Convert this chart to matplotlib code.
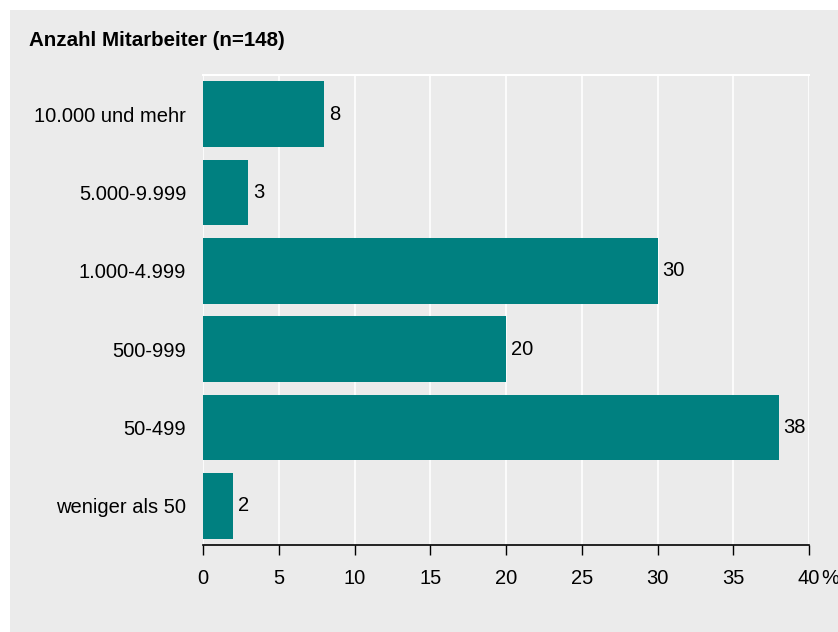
import matplotlib.pyplot as plt
from matplotlib.patches import Rectangle

plt.rcParams['font.family'] = ['Liberation Sans', 'DejaVu Sans']

kategorien = ['weniger als 50', '50-499', '500-999', '1.000-4.999', '5.000-9.999', '10.000 und mehr']
anteile = [2, 38, 20, 30, 3, 8]
xticks = [0, 5, 10, 15, 20, 25, 30, 35, 40]
xticklabels = ['0', '5', '10', '15', '20', '25', '30', '35', '40']

bg = '#ebebeb'
teal = '#008080'
fs = 14.5

fig = plt.figure(figsize=(8.38, 6.32), dpi=100)
fig.patches.append(Rectangle((10 / 838, 0), 1, 622 / 632, transform=fig.transFigure,
                             facecolor=bg, edgecolor='none', zorder=-10))

ax = fig.add_axes([203 / 838, 1 - 545 / 632, 606 / 838, 470 / 632])
ax.set_facecolor(bg)

y = range(len(kategorien))
ax.barh(y, anteile, height=0.84, color=teal, zorder=3)
for yi, v in zip(y, anteile):
    ax.text(v + 0.3, yi, str(v), va='center', ha='left', fontsize=fs, zorder=4)

ax.set_xlim(0, 40)
ax.set_ylim(-0.5, 5.5)
ax.set_xticks(xticks)
ax.set_xticklabels(xticklabels, fontsize=fs)
ax.set_yticks(list(y))
ax.set_yticklabels(kategorien, fontsize=fs)
ax.tick_params(axis='y', length=0, pad=12)
ax.tick_params(axis='x', length=7, width=1, pad=10, color='black')
ax.grid(axis='x', color='white', linewidth=1.2, zorder=1)

for s in ['left', 'right']:
    ax.spines[s].set_visible(False)
ax.spines['top'].set_color('white')
ax.spines['top'].set_linewidth(1.5)
ax.spines['bottom'].set_color('black')
ax.spines['bottom'].set_linewidth(1.2)

# Prozentzeichen hinter der letzten Achsenbeschriftung
ax.annotate('%', xy=(40, 0), xycoords=('data', 'axes fraction'), xytext=(9, -17),
            textcoords='offset points', ha='left', va='top', fontsize=fs)

fig.text(29 / 838, 1 - 40 / 632, 'Anzahl Mitarbeiter (n=148)', fontsize=14.8,
         fontweight='bold', va='center', ha='left')

fig.savefig('out.png', dpi=100, facecolor='white')
